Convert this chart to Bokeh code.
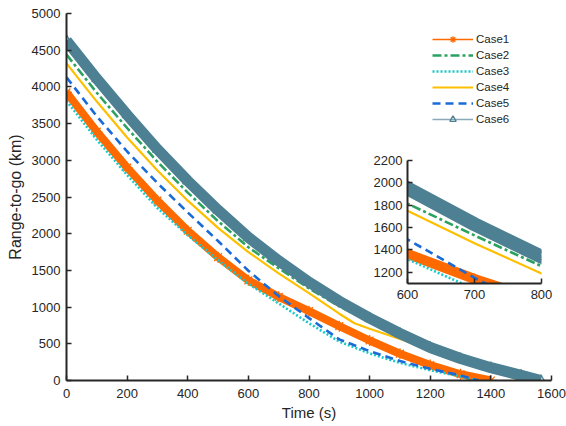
from bokeh.plotting import figure
from bokeh.models import Range1d, FixedTicker, Legend, LegendItem
from bokeh.layouts import column
from bokeh.embed import file_html
from bokeh.resources import INLINE

# ---- data: time (s) and range-to-go (km) for each case ----
t_case1 = [0, 100, 200, 300, 400, 500, 600, 700, 800, 900, 1000, 1100, 1200, 1300, 1400]
r_case1 = [3925, 3390, 2900, 2450, 2040, 1680, 1365, 1140, 945, 740, 545, 365, 210, 85, 0]

t_case2 = [0, 100, 200, 300, 400, 500, 600, 700, 800, 900, 1000, 1100, 1200, 1300, 1400, 1500, 1525]
r_case2 = [4440, 3920, 3440, 2980, 2560, 2170, 1815, 1530, 1255, 1010, 800, 600, 420, 270, 150, 40, 0]

t_case3 = [0, 100, 200, 300, 400, 500, 600, 700, 800, 900, 1000, 1100, 1200, 1300, 1350]
r_case3 = [3810, 3280, 2800, 2350, 1980, 1640, 1318, 1050, 780, 530, 370, 240, 140, 55, 0]

t_case4 = [0, 100, 200, 300, 400, 500, 600, 700, 800, 900, 950, 1000, 1100, 1200, 1300, 1400, 1500]
r_case4 = [4320, 3800, 3310, 2860, 2450, 2080, 1750, 1460, 1190, 910, 780, 705, 565, 425, 285, 140, 0]

t_case5 = [0, 100, 200, 300, 400, 500, 600, 700, 800, 900, 1000, 1100, 1200, 1300, 1360]
r_case5 = [4130, 3600, 3120, 2690, 2290, 1900, 1495, 1150, 850, 560, 400, 265, 160, 70, 0]

t_case6 = [0, 100, 200, 300, 400, 500, 600, 700, 800, 900, 1000, 1100, 1200, 1300, 1400, 1500, 1565]
r_case6 = [4630, 4110, 3620, 3150, 2720, 2320, 1950, 1630, 1340, 1080, 850, 640, 450, 300, 175, 70, 0]

x_ticks = [0, 200, 400, 600, 800, 1000, 1200, 1400, 1600]
y_ticks = [0, 500, 1000, 1500, 2000, 2500, 3000, 3500, 4000, 4500, 5000]
inset_x_ticks = [600, 700, 800]
inset_y_ticks = [1200, 1400, 1600, 1800, 2000, 2200]

FONT = "Liberation Sans"
INK = "#262626"
ORANGE = "#ff6a00"
GREEN = "#2ca261"
CYAN = "#19caca"
GOLD = "#fdbf00"
BLUE = "#1a6bd8"
TEAL = "#4d8093"
TEAL_LIGHT = "#8aaab7"


def style_axes(fig, xt, yt):
    fig.xgrid.visible = False
    fig.ygrid.visible = False
    fig.xaxis.ticker = FixedTicker(ticks=xt)
    fig.yaxis.ticker = FixedTicker(ticks=yt)
    for ax in (fig.xaxis[0], fig.yaxis[0]):
        ax.axis_line_width = 2
        ax.axis_line_color = INK
        ax.major_tick_in = 5
        ax.major_tick_out = 0
        ax.major_tick_line_width = 1.5
        ax.major_tick_line_color = INK
        ax.minor_tick_line_color = None
        ax.major_label_text_font = FONT
        ax.major_label_text_font_size = "13px"
        ax.major_label_text_color = INK
        ax.axis_label_text_font = FONT
        ax.axis_label_text_font_style = "normal"
        ax.axis_label_text_color = INK
    fig.xaxis.major_label_standoff = 8
    fig.yaxis.major_label_standoff = 6


def draw_cases(fig, band1, band6):
    out = {}
    # Case1: thin key line, then the dense asterisk markers as a thick orange band
    out["c1_line"] = fig.line(t_case1, r_case1, line_color=ORANGE, line_width=1.5)
    fig.line(t_case1, r_case1, line_color=ORANGE, line_width=band1)
    out["c1_mark"] = fig.scatter(t_case1, r_case1, marker="asterisk", size=11,
                                 line_color=ORANGE, line_width=1.3)
    out["c2"] = fig.line(t_case2, r_case2, line_color=GREEN, line_width=2.6,
                         line_dash="9 3 3 3")
    out["c3"] = fig.line(t_case3, r_case3, line_color=CYAN, line_width=2.6,
                         line_dash="2 2")
    out["c4"] = fig.line(t_case4, r_case4, line_color=GOLD, line_width=2.2)
    out["c5"] = fig.line(t_case5, r_case5, line_color=BLUE, line_width=2.6,
                         line_dash="8 5")
    # Case6: thin key line, then the dense triangle markers as a thick teal band
    out["c6_line"] = fig.line(t_case6, r_case6, line_color=TEAL_LIGHT, line_width=1.5)
    fig.line(t_case6, r_case6, line_color=TEAL, line_width=band6)
    out["c6_mark"] = fig.scatter(t_case6, r_case6, marker="triangle", size=10,
                                 line_color=TEAL, fill_color=None, line_width=1.3)
    return out


# ---- main chart ----
p = figure(width=566, height=426, output_backend="svg", toolbar_location=None,
           x_range=Range1d(0, 1600), y_range=Range1d(0, 5000),
           min_border_left=66, min_border_right=10, min_border_top=13,
           min_border_bottom=46, outline_line_color=None,
           background_fill_color="white", border_fill_color="white")
style_axes(p, x_ticks, y_ticks)
p.xaxis.axis_label = "Time (s)"
p.yaxis.axis_label = "Range-to-go (km)"
p.xaxis.axis_label_text_font_size = "15px"
p.yaxis.axis_label_text_font_size = "16px"
p.xaxis.axis_label_standoff = 3
p.yaxis.axis_label_standoff = 5

r = draw_cases(p, 8, 11)

legend = Legend(items=[
    LegendItem(label="Case1", renderers=[r["c1_line"], r["c1_mark"]]),
    LegendItem(label="Case2", renderers=[r["c2"]]),
    LegendItem(label="Case3", renderers=[r["c3"]]),
    LegendItem(label="Case4", renderers=[r["c4"]]),
    LegendItem(label="Case5", renderers=[r["c5"]]),
    LegendItem(label="Case6", renderers=[r["c6_line"], r["c6_mark"]]),
], location=(366, 253), border_line_color=None, background_fill_alpha=0,
    glyph_width=41, glyph_height=16, label_height=16, label_standoff=3,
    spacing=0, padding=4, label_text_font=FONT, label_text_font_size="11.5px",
    label_text_color=INK)
p.add_layout(legend)

# ---- zoomed inset: 600-800 s ----
inset = figure(width=215, height=158, output_backend="svg", toolbar_location=None,
               x_range=Range1d(600, 800), y_range=Range1d(1100, 2200),
               min_border_left=45, min_border_right=15, min_border_top=10,
               min_border_bottom=25, outline_line_color=None,
               background_fill_color="white", border_fill_color=None)
style_axes(inset, inset_x_ticks, inset_y_ticks)
inset.xaxis.major_label_standoff = 6
inset.yaxis.major_label_standoff = 5
draw_cases(inset, 10, 14)
inset.margin = (-276, 0, 118, 341)

page = column(p, inset, spacing=0)
open("out.html", "w").write(file_html(page, INLINE))
